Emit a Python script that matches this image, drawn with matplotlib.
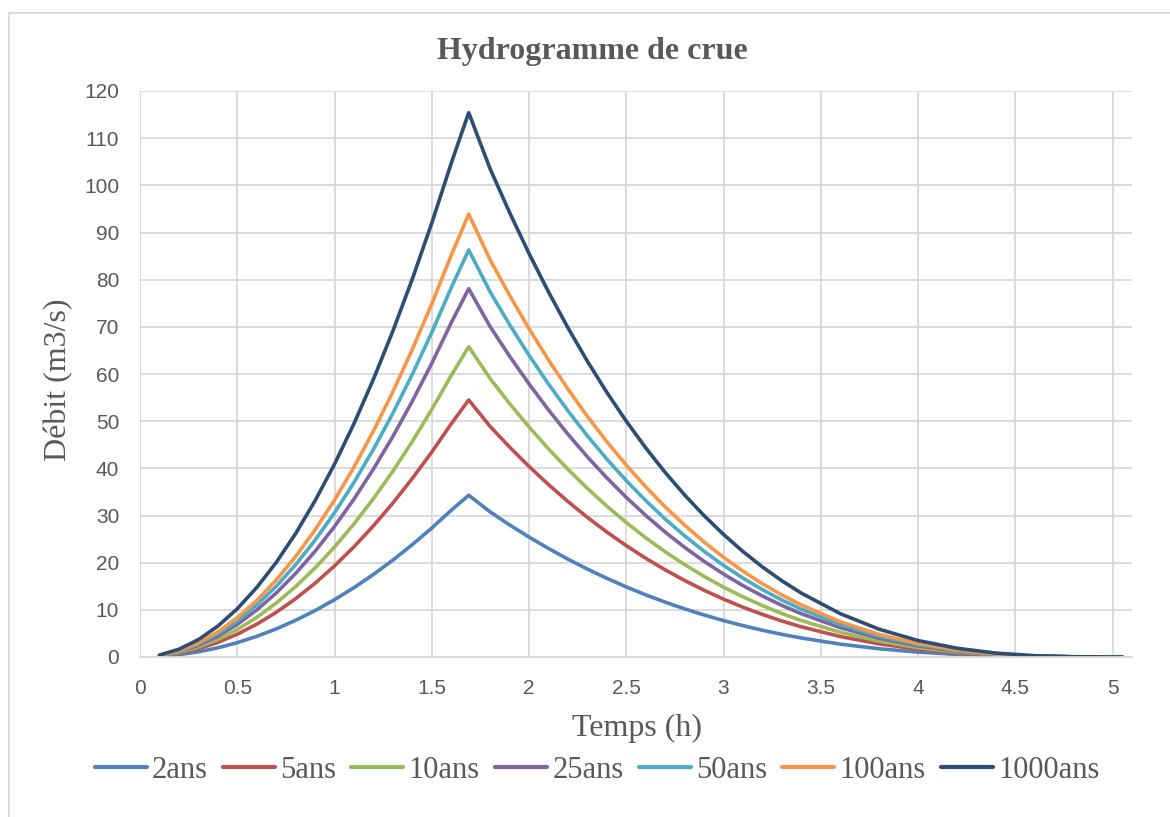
import matplotlib
matplotlib.use("Agg")
import matplotlib.pyplot as plt
from matplotlib.patches import Rectangle

# ---- data ----
temps = [0.1, 0.2, 0.3, 0.4, 0.5, 0.6, 0.7, 0.8, 0.9, 1.0, 1.1, 1.2, 1.3, 1.4, 1.5, 1.6, 1.69,
         1.8, 1.9, 2.0, 2.1, 2.2, 2.3, 2.4, 2.5, 2.6, 2.7, 2.8, 2.9, 3.0, 3.1, 3.2, 3.3, 3.4,
         3.6, 3.8, 4.0, 4.2, 4.4, 4.6, 4.8, 5.05]

q_2ans = [0.12, 0.49, 1.09, 1.94, 3.04, 4.38, 5.95, 7.78, 9.84, 12.15, 14.7, 17.5, 20.54, 23.82, 27.34, 31.11, 34.3,
          30.77, 28.01, 25.43, 23.01, 20.75, 18.64, 16.68, 14.86, 13.18, 11.63, 10.21, 8.91, 7.72, 6.65, 5.67, 4.8, 4.03,
          2.73, 1.75, 1.04, 0.55, 0.25, 0.08, 0.01, 0.0]
q_5ans = [0.19, 0.77, 1.74, 3.09, 4.83, 6.95, 9.46, 12.36, 15.64, 19.31, 23.36, 27.81, 32.63, 37.85, 43.45, 49.43, 54.5,
          48.88, 44.51, 40.4, 36.56, 32.96, 29.61, 26.5, 23.61, 20.94, 18.48, 16.22, 14.15, 12.27, 10.56, 9.02, 7.63, 6.4,
          4.34, 2.78, 1.65, 0.87, 0.39, 0.13, 0.02, 0.0]
q_10ans = [0.23, 0.93, 2.1, 3.73, 5.83, 8.39, 11.42, 14.92, 18.88, 23.31, 28.21, 33.57, 39.4, 45.69, 52.46, 59.68, 65.8,
           59.02, 53.74, 48.78, 44.14, 39.8, 35.75, 31.99, 28.51, 25.28, 22.31, 19.58, 17.09, 14.81, 12.75, 10.89, 9.21, 7.72,
           5.24, 3.36, 1.99, 1.06, 0.47, 0.16, 0.03, 0.0]
q_25ans = [0.28, 1.11, 2.49, 4.43, 6.92, 9.96, 13.56, 17.71, 22.41, 27.67, 33.48, 39.85, 46.76, 54.24, 62.26, 70.84, 78.1,
           70.05, 63.78, 57.9, 52.39, 47.24, 42.44, 37.98, 33.84, 30.01, 26.48, 23.25, 20.28, 17.58, 15.13, 12.92, 10.94, 9.17,
           6.22, 3.99, 2.36, 1.25, 0.56, 0.19, 0.03, 0.0]
q_50ans = [0.31, 1.22, 2.75, 4.89, 7.64, 11.01, 14.98, 19.57, 24.77, 30.58, 37.0, 44.03, 51.67, 59.93, 68.8, 78.28, 86.3,
           77.41, 70.48, 63.98, 57.89, 52.2, 46.89, 41.96, 37.39, 33.16, 29.26, 25.69, 22.41, 19.43, 16.72, 14.28, 12.08, 10.13,
           6.87, 4.4, 2.61, 1.39, 0.62, 0.21, 0.04, 0.0]
q_100ans = [0.33, 1.33, 2.99, 5.32, 8.32, 11.98, 16.3, 21.29, 26.95, 33.27, 40.26, 47.91, 56.22, 65.21, 74.86, 85.17, 93.9,
            84.22, 76.69, 69.61, 62.99, 56.8, 51.02, 45.66, 40.68, 36.08, 31.84, 27.95, 24.38, 21.14, 18.19, 15.53, 13.15, 11.02,
            7.48, 4.79, 2.84, 1.51, 0.67, 0.22, 0.04, 0.0]
q_1000ans = [0.41, 1.64, 3.68, 6.54, 10.22, 14.72, 20.03, 26.17, 33.12, 40.89, 49.47, 58.88, 69.1, 80.14, 92.0, 104.67, 115.4,
             103.5, 94.24, 85.55, 77.41, 69.8, 62.71, 56.11, 50.0, 44.34, 39.13, 34.35, 29.97, 25.98, 22.36, 19.09, 16.16, 13.54,
             9.19, 5.89, 3.49, 1.85, 0.83, 0.27, 0.05, 0.0]

series_names = ["2ans", "5ans", "10ans", "25ans", "50ans", "100ans", "1000ans"]
series_values = [q_2ans, q_5ans, q_10ans, q_25ans, q_50ans, q_100ans, q_1000ans]
colors = ["#4F81BD", "#C0504D", "#9BBB59", "#8064A2", "#4BACC6", "#F79646", "#2C4D75"]

x_ticks = [0, 0.5, 1, 1.5, 2, 2.5, 3, 3.5, 4, 4.5, 5]
x_ticklabels = ["0", "0.5", "1", "1.5", "2", "2.5", "3", "3.5", "4", "4.5", "5"]
y_ticks = list(range(0, 121, 10))

# ---- figure ----
fig = plt.figure(figsize=(11.7, 8.17), dpi=100)
fig.patches.append(Rectangle((9 / 1170, -0.05), 1.2, 1 - 13 / 817 + 0.05,
                             transform=fig.transFigure, fill=False,
                             edgecolor="#D9D9D9", linewidth=1.3, zorder=0))

ax = fig.add_axes([140 / 1170, 1 - 657 / 817, (1132 - 140) / 1170, (657 - 91) / 817])

for name, vals, c in zip(series_names, series_values, colors):
    ax.plot(temps, vals, color=c, linewidth=2.6, label=name,
            solid_joinstyle="round", solid_capstyle="round")

ax.set_xlim(0, 5.1)
ax.set_ylim(0, 120)
ax.set_xticks(x_ticks)
ax.set_xticklabels(x_ticklabels)
ax.set_yticks(y_ticks)
ax.grid(True, color="#D9D9D9", linewidth=1.3)
ax.set_axisbelow(True)
for s in ["top", "right", "left"]:
    ax.spines[s].set_visible(False)
ax.spines["bottom"].set_color("#D9D9D9")
ax.spines["bottom"].set_linewidth(1.3)
ax.tick_params(length=0, labelsize=15, labelcolor="#595959")
ax.tick_params(axis="y", pad=15)
ax.tick_params(axis="x", pad=16)
for lbl in ax.get_xticklabels() + ax.get_yticklabels():
    lbl.set_family("Liberation Sans")

serif = "Liberation Serif"
fig.text(592 / 1170, 1 - 52 / 817, "Hydrogramme de crue", ha="center", va="center",
         family=serif, fontweight="bold", fontsize=23, color="#595959")
fig.text(59 / 1170, 1 - 380 / 817, "Débit (m3/s)", ha="center", va="center", rotation=90,
         family=serif, fontsize=23, color="#595959")
fig.text(637 / 1170, 1 - 728 / 817, "Temps (h)", ha="center", va="center",
         family=serif, fontsize=23, color="#595959")

leg = fig.legend(loc="center", bbox_to_anchor=(597 / 1170, 1 - 770 / 817), ncol=7,
                 frameon=False, handlelength=1.7, handletextpad=0.17, columnspacing=0.5,
                 prop={"family": serif, "size": 22})
for t in leg.get_texts():
    t.set_color("#595959")
for h in leg.get_lines():
    h.set_linewidth(3.0)
    h.set_solid_capstyle("round")

fig.savefig("out.png", dpi=100)
